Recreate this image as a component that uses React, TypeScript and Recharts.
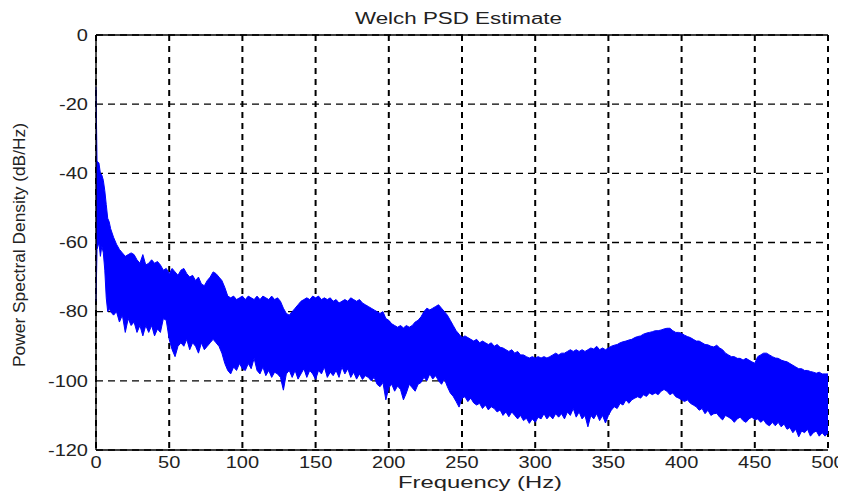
import React from "react";
import {
  ComposedChart,
  Area,
  XAxis,
  YAxis,
  CartesianGrid,
  ReferenceLine,
} from "recharts";

// Frequency bins (Hz)
const FREQ_HZ = [
  0, 0.7, 2, 3, 4, 5, 6, 7, 8, 9, 10, 12, 14, 16, 18, 20, 22, 24, 26, 28, 30, 32, 34, 36, 38, 40, 42, 44, 46, 48,
  50, 52, 54, 56, 58, 60, 62, 64, 66, 68, 70, 72, 74, 76, 78, 80, 82, 84, 86, 88, 90, 92, 94, 96, 98,
  100, 102, 104, 106, 108, 110, 112, 114, 116, 118, 120, 122, 124, 126, 128, 130, 132, 134, 136, 138, 140, 142, 144, 146, 148,
  150, 152, 154, 156, 158, 160, 162, 164, 166, 168, 170, 172, 174, 176, 178, 180, 182, 184, 186, 188, 190, 192, 194, 196, 198,
  200, 202, 204, 206, 208, 210, 212, 214, 216, 218, 220, 222, 224, 226, 228, 230, 232, 234, 236, 238, 240, 242, 244, 246, 248,
  250, 252, 254, 256, 258, 260, 262, 264, 266, 268, 270, 272, 274, 276, 278, 280, 282, 284, 286, 288, 290, 292, 294, 296, 298,
  300, 302, 304, 306, 308, 310, 312, 314, 316, 318, 320, 322, 324, 326, 328, 330, 332, 334, 336, 338, 340, 342, 344, 346, 348,
  350, 352, 354, 356, 358, 360, 362, 364, 366, 368, 370, 372, 374, 376, 378, 380, 382, 384, 386, 388, 390, 392, 394, 396, 398,
  400, 402, 404, 406, 408, 410, 412, 414, 416, 418, 420, 422, 424, 426, 428, 430, 432, 434, 436, 438, 440, 442, 444, 446, 448,
  450, 452, 454, 456, 458, 460, 462, 464, 466, 468, 470, 472, 474, 476, 478, 480, 482, 484, 486, 488, 490, 492, 494, 496, 498, 500,
];

// Upper envelope of the PSD (dB/Hz)
const PSD_HIGH = [
  -15, -36.5, -37, -40, -40.5, -42, -45, -49, -53, -54, -56, -58.5, -60.5, -62, -63, -64, -63.5, -63, -63.5, -65, -66, -63.5, -66.5, -66, -65, -66, -65.5, -66.5, -68, -67.5,
  -69, -67.5, -68.5, -69.5, -68, -67.5, -69, -70, -69.5, -71, -70, -72, -72.5, -71, -70, -68.5, -69, -70, -71, -73, -75.5, -76, -75.5, -76.5, -76,
  -75.5, -76.5, -75.5, -76, -76.5, -75.5, -76.5, -75.5, -76, -76.5, -75.5, -76.5, -76, -77, -79, -80.5, -81, -80, -79, -78, -77, -76.5, -76, -76.5, -75.5,
  -76, -75.5, -76.5, -76, -76.5, -76, -77, -76.5, -77.5, -77, -76.5, -77, -76, -76.5, -77, -76.5, -77.5, -78, -78.5, -79, -79.5, -80, -80.5, -80, -82,
  -82.5, -83.5, -84, -84.5, -84, -84.7, -84, -84.5, -84, -83, -82.5, -81.5, -80, -79, -79.5, -79, -78.5, -78, -79, -80, -81, -82.5, -84, -85.5, -86.5,
  -87.5, -87, -87.5, -88, -88.5, -88, -89, -88.5, -89, -89.5, -89, -90, -89.5, -90.3, -90.5, -91, -91.5, -91, -92, -91.5, -92.5, -92.5, -93, -93.4, -93,
  -93.4, -93, -93.4, -93, -93.4, -93, -92.5, -92, -92.5, -92, -92, -91.5, -91, -91.5, -91, -91.5, -91, -91.5, -91, -90.5, -90.8, -90, -91, -90.5, -91,
  -90.5, -90, -89.7, -89.5, -89, -88.7, -88.5, -88.2, -88, -87.5, -87.2, -87, -86.5, -86.2, -86, -85.8, -85.5, -85.5, -85.3, -85, -84.8, -84.8, -85.5, -86, -86,
  -86.3, -86.8, -87.2, -87.5, -88, -88.5, -88.5, -89, -89.5, -89.6, -90, -90.2, -89.7, -90.5, -91, -92, -92.5, -93, -93, -93.5, -93.5, -94, -93.5, -94, -94.5,
  -94.9, -93, -92.5, -92, -92, -92.5, -93, -93.4, -93.5, -94, -94.3, -94.5, -95, -95.5, -96, -96.5, -96.5, -97, -97, -97.3, -97.5, -97.8, -97.5, -98, -98, -98,
];

// Lower envelope of the PSD (dB/Hz)
const PSD_LOW = [
  -77, -62, -60, -64, -61, -63, -68, -76, -80, -79, -80, -81, -80, -83, -81, -86, -82, -84, -83, -86, -84, -87, -84, -86, -84, -87, -85, -86, -82, -82.5,
  -88, -91, -93, -90, -89, -90, -88, -91, -89, -90, -92, -89, -91, -90, -89, -88, -89, -90, -92, -95, -97, -98, -96, -97, -95,
  -96.5, -97, -95, -96.5, -93.5, -97, -98, -96, -98.5, -97, -99, -97.5, -98, -99, -102.7, -98, -97, -99, -97, -99.5, -98, -96.5, -99, -97, -98,
  -99.6, -97, -98, -96, -99, -97.5, -98.5, -97, -99, -96, -98, -96.5, -99, -97.5, -99.5, -98, -99.6, -98.5, -99, -100, -99, -101, -101.7, -100.5, -105.5,
  -102, -101, -103, -101.5, -102.5, -105.5, -103.5, -101, -102, -103, -101, -100.5, -99, -100, -98, -99.5, -98.5, -100, -101, -99.5, -101.7, -103.5, -104.5, -106, -107.6,
  -105, -104.6, -106, -105, -106.4, -107, -106.5, -108, -107, -108.4, -107.5, -108, -109, -108.4, -110, -109, -110.4, -109, -110, -111, -110, -111.5, -110.8, -112.3, -111,
  -112, -110.5, -111, -109.5, -111, -110, -111, -109.5, -110.5, -109.5, -111, -109, -110, -108, -110.5, -109, -111, -110, -113.3, -110, -111, -109.5, -111.5, -110, -112.2,
  -110, -108.5, -107.5, -108, -106.5, -107, -105.5, -106.5, -105.5, -105, -104.6, -105, -104, -104.5, -103.5, -104, -103.5, -104, -103, -102.5, -103, -104, -103.5, -104.6, -105,
  -105.5, -106, -105.5, -106.5, -107, -107.5, -108.5, -108, -109.5, -108.5, -110, -109.5, -109.4, -110.5, -111.3, -110, -110.5, -111, -112, -111, -110.5, -111.5, -112, -111, -110.5,
  -111.3, -111, -112, -111.3, -112.5, -113, -112, -113, -112, -113.3, -112.5, -114, -113.5, -115, -114, -116.2, -114.5, -115, -114, -116, -115, -114.5, -116, -115, -116, -115,
];

const X_TICKS = [0, 50, 100, 150, 200, 250, 300, 350, 400, 450, 500];
const Y_TICKS = [-120, -100, -80, -60, -40, -20, 0];

const TITLE = "Welch PSD Estimate";
const X_LABEL = "Frequency (Hz)";
const Y_LABEL = "Power Spectral Density (dB/Hz)";

const data = FREQ_HZ.map((f, i) => ({ f, range: [PSD_LOW[i], PSD_HIGH[i]] }));

const FONT = "'Liberation Sans', Arial, sans-serif";
const TEXT_COLOR = "#222";

const YTick = (props: any) => {
  const { y, payload } = props;
  return (
    <text
      transform={`translate(80,${y}) scale(1.25,1)`}
      x={0}
      y={0}
      dy="0.36em"
      textAnchor="end"
      fontFamily={FONT}
      fontSize={16}
      fill={TEXT_COLOR}
    >
      {payload.value}
    </text>
  );
};

const XTick = (props: any) => {
  const { x, payload } = props;
  return (
    <text
      transform={`translate(${x},460) scale(1.25,1)`}
      x={0}
      y={0}
      textAnchor="middle"
      fontFamily={FONT}
      fontSize={16}
      fill={TEXT_COLOR}
    >
      {payload.value}
    </text>
  );
};

export default function App() {
  const W = 838;
  const H = 486;
  return (
    <div style={{ position: "relative", width: W, height: H }}>
      <ComposedChart
        width={W}
        height={H}
        data={data}
        margin={{ top: 27, right: 18, bottom: 0, left: 0 }}
      >
        <CartesianGrid
          horizontal={true}
          vertical={false}
          stroke="#000"
          strokeWidth={1.4}
          strokeDasharray="7 5"
        />
        <CartesianGrid
          horizontal={false}
          vertical={true}
          stroke="#000"
          strokeWidth={2}
          strokeDasharray="6 5"
        />
        <XAxis
          dataKey="f"
          type="number"
          domain={[0, 500]}
          ticks={X_TICKS}
          interval={0}
          height={44}
          tickLine={false}
          axisLine={{ stroke: "#000", strokeWidth: 1.4 }}
          tick={<XTick />}
        />
        <YAxis
          type="number"
          domain={[-120, 0]}
          ticks={Y_TICKS}
          interval={0}
          width={88}
          tickLine={false}
          axisLine={{ stroke: "#000", strokeWidth: 1.4 }}
          tick={<YTick />}
        />
        <ReferenceLine y={0} stroke="#000" strokeWidth={1.4} />
        <Area
          dataKey="range"
          type="linear"
          stroke="#0000ff"
          strokeWidth={1}
          fill="#0000ff"
          fillOpacity={1}
          dot={false}
          activeDot={false}
          isAnimationActive={false}
        />
      </ComposedChart>
      <svg
        width={W}
        height={H}
        style={{ position: "absolute", left: 0, top: 0, pointerEvents: "none" }}
      >
        <text
          x={450.5}
          y={15.5}
          textAnchor="middle"
          fontFamily={FONT}
          fontSize={16}
          fill={TEXT_COLOR}
          textLength={207}
          lengthAdjust="spacingAndGlyphs"
        >
          {TITLE}
        </text>
        <text
          x={472}
          y={480}
          textAnchor="middle"
          fontFamily={FONT}
          fontSize={16}
          fill={TEXT_COLOR}
          textLength={164}
          lengthAdjust="spacingAndGlyphs"
        >
          {X_LABEL}
        </text>
        <text
          transform="translate(17,237) rotate(-90)"
          x={0}
          y={0}
          textAnchor="middle"
          fontFamily={FONT}
          fontSize={16}
          fill={TEXT_COLOR}
          textLength={244}
          lengthAdjust="spacingAndGlyphs"
        >
          {Y_LABEL}
        </text>
      </svg>
    </div>
  );
}
